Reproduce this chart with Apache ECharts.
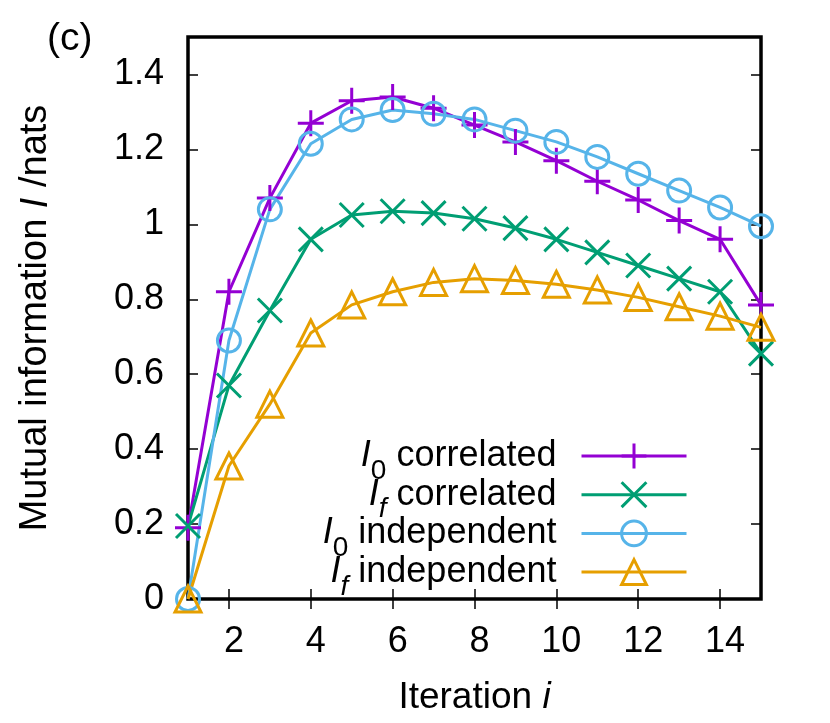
<!DOCTYPE html>
<html>
<head>
<meta charset="utf-8">
<script src="https://cdn.jsdelivr.net/npm/echarts@6/dist/echarts.min.js"></script>
<style>
    html, body {margin: 0; padding: 0; background: #fff;}
    #chart {width: 830px; height: 723px;}
</style>
</head>
<body>
<div id="chart"></div>
<script>
var iterations = [1, 2, 3, 4, 5, 6, 7, 8, 9, 10, 11, 12, 13, 14, 15];
var i0Correlated = [0.19, 0.82, 1.07, 1.27, 1.33, 1.34, 1.31, 1.265, 1.22, 1.17, 1.115, 1.065, 1.01, 0.96, 0.785];
var ifCorrelated = [0.195, 0.57, 0.77, 0.96, 1.025, 1.035, 1.03, 1.015, 0.99, 0.96, 0.925, 0.89, 0.855, 0.82, 0.655];
var i0Independent = [0, 0.69, 1.04, 1.215, 1.28, 1.305, 1.295, 1.28, 1.25, 1.22, 1.18, 1.135, 1.09, 1.045, 0.995];
var ifIndependent = [0, 0.355, 0.52, 0.71, 0.785, 0.82, 0.845, 0.855, 0.85, 0.84, 0.825, 0.805, 0.78, 0.755, 0.725];
var xTicks = [2, 4, 6, 8, 10, 12, 14];
var yTicks = [0, 0.2, 0.4, 0.6, 0.8, 1, 1.2, 1.4];

var FONT = 'Liberation Sans';
var plusPath = 'path://M10,0 L10,20 M0,10 L20,10';
var crossPath = 'path://M0,0 L20,20 M20,0 L0,20';

function pairs(ys) {
    var out = [];
    for (var k = 0; k < iterations.length; k++) {
        out.push([iterations[k], ys[k]]);
    }
    return out;
}

// legend label with italic I and subscript
var legendText = {
    'I0 correlated': '{it|I}{sub|0}{t| correlated}',
    'If correlated': '{it|I}{subi|f}{t| correlated}',
    'I0 independent': '{it|I}{sub|0}{t| independent}',
    'If independent': '{it|I}{subi|f}{t| independent}'
};

function makeSeries(name, ys, color, symbol, size) {
    return {
        name: name,
        type: 'line',
        data: pairs(ys),
        clip: false,
        symbol: symbol,
        symbolSize: size,
        showAllSymbol: true,
        lineStyle: {color: color, width: 3},
        itemStyle: {color: 'rgba(0,0,0,0)', borderColor: color, borderWidth: 3},
        emphasis: {disabled: true},
        z: 3
    };
}

var chart = echarts.init(document.getElementById('chart'));
var option = {
    animation: false,
    backgroundColor: '#fff',
    textStyle: {fontFamily: FONT},
    grid: {left: 188, right: 69, top: 37, bottom: 124, show: true, borderColor: '#000', borderWidth: 3.5, backgroundColor: 'transparent'},
    graphic: [{
        type: 'text', left: 47, top: 20,
        style: {text: '(c)', font: '39px "Liberation Sans"', fill: '#000'}
    }],
    legend: {
        orient: 'vertical',
        right: 142,
        top: 427,
        padding: 0,
        align: 'right',
        itemWidth: 105,
        itemHeight: 31,
        itemGap: -19.3,
        selectedMode: false,
        lineStyle: {width: 3},
        itemStyle: {borderWidth: 3},
        formatter: function (name) {
            return legendText[name];
        },
        textStyle: {
            fontFamily: FONT,
            fontSize: 36,
            color: '#000',
            padding: [0, 20, 0, 0],
            rich: {
                it: {fontFamily: FONT, fontSize: 36, fontStyle: 'italic', color: '#000', lineHeight: 38},
                sub: {fontFamily: FONT, fontSize: 28, color: '#000', lineHeight: 12, padding: [30, 0, 0, 0]},
                subi: {fontFamily: FONT, fontSize: 28, fontStyle: 'italic', color: '#000', lineHeight: 12, padding: [30, 0, 0, 0]},
                t: {fontFamily: FONT, fontSize: 36, color: '#000', lineHeight: 38}
            }
        }
    },
    xAxis: [{
        type: 'value', min: 1, max: 15,
        name: '{t|Iteration }{it|i}',
        nameLocation: 'middle',
        nameGap: 80,
        nameTextStyle: {
            rich: {
                t: {fontFamily: FONT, fontSize: 37, color: '#000'},
                it: {fontFamily: FONT, fontSize: 37, fontStyle: 'italic', color: '#000'}
            }
        },
        axisLine: {show: false},
        splitLine: {show: false},
        axisTick: {inside: true, length: 10, lineStyle: {color: '#000', width: 1.5}, customValues: xTicks},
        axisLabel: {fontFamily: FONT, fontSize: 36, color: '#000', margin: 25, padding: [0, 0, 0, 10], customValues: xTicks}
    }, {
        type: 'value', min: 1, max: 15, position: 'top',
        axisLine: {show: false},
        splitLine: {show: false},
        axisTick: {inside: true, length: 10, lineStyle: {color: '#000', width: 1.5}, customValues: xTicks},
        axisLabel: {show: false}
    }],
    yAxis: [{
        type: 'value', min: 0, max: 1.5,
        name: '{t|Mutual information }{it|I}{t| /nats}',
        nameLocation: 'middle',
        nameRotate: 90,
        nameGap: 133,
        nameTextStyle: {
            rich: {
                t: {fontFamily: FONT, fontSize: 38, color: '#000'},
                it: {fontFamily: FONT, fontSize: 38, fontStyle: 'italic', color: '#000'}
            }
        },
        axisLine: {show: false},
        splitLine: {show: false},
        axisTick: {inside: true, length: 10, lineStyle: {color: '#000', width: 1.5}, customValues: yTicks},
        axisLabel: {fontFamily: FONT, fontSize: 36, color: '#000', margin: 24, customValues: yTicks}
    }, {
        type: 'value', min: 0, max: 1.5, position: 'right',
        axisLine: {show: false},
        splitLine: {show: false},
        axisTick: {inside: true, length: 10, lineStyle: {color: '#000', width: 1.5}, customValues: yTicks},
        axisLabel: {show: false}
    }],
    series: [
        makeSeries('I0 correlated', i0Correlated, '#9400d3', plusPath, 26),
        makeSeries('If correlated', ifCorrelated, '#009e73', crossPath, 24),
        makeSeries('I0 independent', i0Independent, '#56b4e9', 'circle', 23),
        makeSeries('If independent', ifIndependent, '#e69f00', 'triangle', 26)
    ]
};
chart.setOption(option);
</script>
</body>
</html>
